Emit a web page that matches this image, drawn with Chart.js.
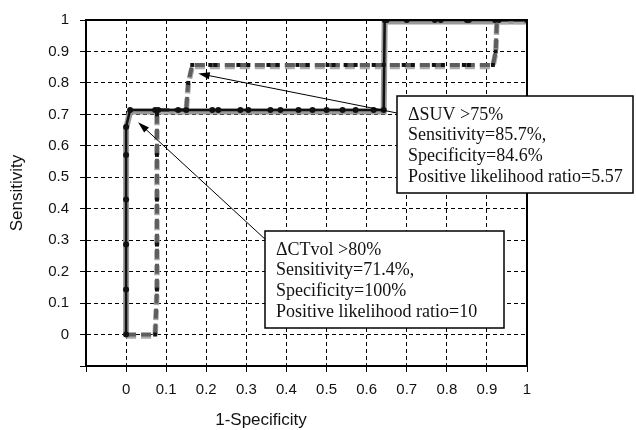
<!DOCTYPE html>
<html>
<head>
<meta charset="utf-8">
<script src="https://cdn.jsdelivr.net/npm/chart.js@4.4.1/dist/chart.umd.min.js"></script>
<style>
  html, body { margin: 0; padding: 0; background: #fff; }
  #wrap { width: 636px; height: 430px; }
</style>
</head>
<body>
<div id="wrap"><canvas id="roc" width="636" height="430"></canvas></div>
<script>
// ΔCTvol curve (solid line)
const ctvolX = [0, 0, 0, 0, 0, 0, 0.01, 0.0725, 0.08, 0.13, 0.15, 0.215, 0.23, 0.285, 0.305, 0.36, 0.385,
  0.43, 0.465, 0.5, 0.54, 0.5725, 0.6175, 0.6425, 0.645, 0.65, 0.70, 0.77, 0.785, 0.85, 0.855, 0.92, 0.93, 1];
const ctvolY = [0, 0.143, 0.286, 0.429, 0.571, 0.66, 0.714, 0.714, 0.714, 0.714, 0.714, 0.714, 0.714, 0.714, 0.714, 0.714, 0.714,
  0.714, 0.714, 0.714, 0.714, 0.714, 0.714, 0.714, 1, 1, 1, 1, 1, 1, 1, 1, 1, 1];

// ΔSUV curve (dashed line)
const suvX = [0, 0.0725, 0.077, 0.077, 0.077, 0.077, 0.077, 0.08, 0.13, 0.15, 0.155, 0.165, 0.21, 0.2225,
  0.28, 0.305, 0.355, 0.3775, 0.4275, 0.4525, 0.5025, 0.5175, 0.5475, 0.5725, 0.6175, 0.6425, 0.6925,
  0.715, 0.7675, 0.79, 0.8425, 0.855, 0.915, 0.922, 0.925, 1];
const suvY = [0, 0, 0.143, 0.286, 0.429, 0.571, 0.7, 0.714, 0.714, 0.714, 0.8, 0.857, 0.857, 0.857,
  0.857, 0.857, 0.857, 0.857, 0.857, 0.857, 0.857, 0.857, 0.857, 0.857, 0.857, 0.857, 0.857,
  0.857, 0.857, 0.857, 0.857, 0.857, 0.857, 0.9, 1, 1];

const tickValues = [0, 0.1, 0.2, 0.3, 0.4, 0.5, 0.6, 0.7, 0.8, 0.9, 1];

// callout boxes: text lines and the point each arrow goes to
const suvNote = ['\u0394SUV >75%', 'Sensitivity=85.7%,', 'Specificity=84.6%', 'Positive likelihood ratio=5.57'];
const suvNoteTarget = [0.18, 0.83];
const ctvolNote = ['\u0394CTvol >80%', 'Sensitivity=71.4%,', 'Specificity=100%', 'Positive likelihood ratio=10'];
const ctvolNoteTarget = [0.03, 0.675];

function toPoints(xs, ys) {
  return xs.map((x, i) => ({ x: x, y: ys[i] }));
}

function fmtTick(v) {
  const r = Math.round(v * 10) / 10;
  if (r < 0) return '';
  return r === 0 || r === 1 ? String(r) : r.toFixed(1);
}

function drawArrow(ctx, x1, y1, x2, y2) {
  const ang = Math.atan2(y2 - y1, x2 - x1);
  ctx.beginPath();
  ctx.moveTo(x1, y1);
  ctx.lineTo(x2 - 8 * Math.cos(ang), y2 - 8 * Math.sin(ang));
  ctx.stroke();
  ctx.beginPath();
  ctx.moveTo(x2, y2);
  ctx.lineTo(x2 - 12 * Math.cos(ang - 0.3), y2 - 12 * Math.sin(ang - 0.3));
  ctx.lineTo(x2 - 12 * Math.cos(ang + 0.3), y2 - 12 * Math.sin(ang + 0.3));
  ctx.closePath();
  ctx.fill();
}

function drawNote(chart, lines, target, box) {
  const ctx = chart.ctx;
  const xs = chart.scales.x, ys = chart.scales.y;
  ctx.save();
  ctx.strokeStyle = '#000';
  ctx.fillStyle = '#000';
  ctx.lineWidth = 1;
  drawArrow(ctx, box.ax, box.ay, xs.getPixelForValue(target[0]), ys.getPixelForValue(target[1]));
  ctx.fillStyle = '#fff';
  ctx.fillRect(box.x, box.y, box.w, box.h);
  ctx.lineWidth = 1.5;
  ctx.strokeRect(box.x, box.y, box.w, box.h);
  ctx.fillStyle = '#111';
  ctx.font = '18px "Liberation Serif", "DejaVu Serif", serif';
  ctx.textBaseline = 'middle';
  lines.forEach((t, i) => ctx.fillText(t, box.x + 11, box.y + 19 + i * 20.7));
  ctx.restore();
}

const framePlugin = {
  id: 'frame',
  afterDraw(chart) {
    const ctx = chart.ctx;
    const a = chart.chartArea;
    ctx.save();
    ctx.strokeStyle = '#000';
    ctx.lineWidth = 2;
    ctx.strokeRect(a.left, a.top, a.right - a.left, a.bottom - a.top);
    ctx.fillStyle = '#111';
    ctx.font = '17px "Liberation Sans", Arial, sans-serif';
    ctx.textAlign = 'center';
    ctx.textBaseline = 'middle';
    ctx.fillText('1-Specificity', 261, 420);
    ctx.restore();
    drawNote(chart, suvNote, suvNoteTarget, { x: 397, y: 96, w: 236, h: 97, ax: 397, ay: 113 });
    drawNote(chart, ctvolNote, ctvolNoteTarget, { x: 265, y: 231, w: 239, h: 97, ax: 266, ay: 240 });
  }
};

const ctx = document.getElementById('roc').getContext('2d');
new Chart(ctx, {
  type: 'scatter',
  data: {
    datasets: [
      {
        label: 'CTvol',
        data: toPoints(ctvolX, ctvolY),
        showLine: true,
        borderColor: '#111',
        borderWidth: 2.5,
        pointStyle: 'circle',
        pointRadius: 3,
        pointBackgroundColor: '#111',
        pointBorderWidth: 0,
        order: 1
      },
      {
        label: 'CTvol shadow',
        data: toPoints(ctvolX, ctvolY.map(v => v - 0.005)),
        showLine: true,
        borderColor: '#999',
        borderWidth: 6,
        pointRadius: 0,
        order: 4
      },
      {
        label: 'SUV',
        data: toPoints(suvX, suvY),
        showLine: true,
        borderColor: '#5e5e5e',
        borderWidth: 4,
        borderDash: [10, 5],
        pointStyle: 'rect',
        pointRadius: 2.8,
        pointBackgroundColor: '#111',
        pointBorderWidth: 0,
        order: 2
      },
      {
        label: 'SUV shadow',
        data: toPoints(suvX, suvY.map(v => v - 0.005)),
        showLine: true,
        borderColor: '#aaa',
        borderWidth: 5.5,
        borderDash: [10, 5],
        pointRadius: 0,
        order: 3
      }
    ]
  },
  options: {
    responsive: false,
    animation: false,
    layout: { padding: { top: 16, right: 109, left: 0, bottom: 0 } },
    plugins: {
      legend: { display: false },
      tooltip: { enabled: false }
    },
    scales: {
      x: {
        type: 'linear',
        min: -0.1,
        max: 1,
        afterFit: s => { s.height = 64; },
        afterBuildTicks: s => { s.ticks = [-0.1].concat(tickValues).map(v => ({ value: v })); },
        ticks: {
          callback: fmtTick,
          color: '#111',
          padding: 9,
          maxRotation: 0,
          font: { family: '"Liberation Sans", Arial, sans-serif', size: 15 }
        },
        grid: { color: '#000', lineWidth: 1, tickLength: 6, tickColor: '#000' },
        border: { color: '#000', width: 2, dash: [4, 3] }
      },
      y: {
        type: 'linear',
        min: -0.1,
        max: 1,
        afterFit: s => { s.width = 86; },
        afterBuildTicks: s => { s.ticks = [-0.1].concat(tickValues).map(v => ({ value: v })); },
        ticks: {
          callback: fmtTick,
          color: '#111',
          padding: 11,
          font: { family: '"Liberation Sans", Arial, sans-serif', size: 15 }
        },
        grid: { color: '#000', lineWidth: 1, tickLength: 6, tickColor: '#000' },
        border: { color: '#000', width: 2, dash: [4, 3] },
        title: {
          display: true,
          text: 'Sensitivity',
          color: '#111',
          padding: { top: 7, bottom: 0 },
          font: { family: '"Liberation Sans", Arial, sans-serif', size: 17 }
        }
      }
    }
  },
  plugins: [framePlugin]
});
</script>
</body>
</html>
